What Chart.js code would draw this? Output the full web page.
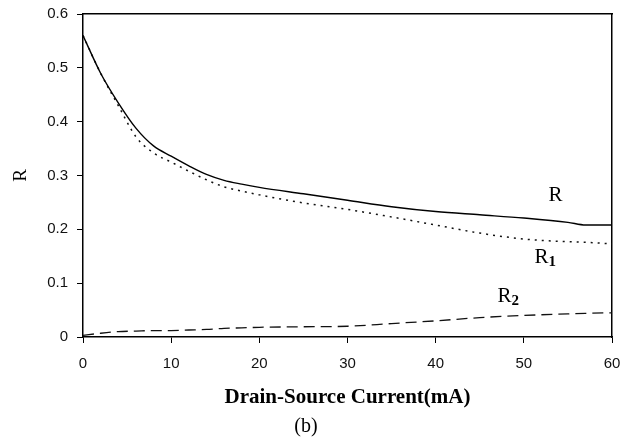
<!DOCTYPE html>
<html>
<head>
<meta charset="utf-8">
<script src="https://cdn.jsdelivr.net/npm/chart.js@4.4.1/dist/chart.umd.min.js"></script>
<style>
  html, body { margin: 0; padding: 0; background: #fff; }
  #wrap { width: 629px; height: 444px; }
</style>
</head>
<body>
<div id="wrap"><canvas id="myChart" width="629" height="444"></canvas></div>
<script>
// Drain-source current (mA)
const Strom = [0, 2, 4, 6, 8, 10, 12, 14, 16, 18, 20, 25, 30, 35, 40, 45, 50, 55, 57, 60];

// R, R1, R2
const WerteR  = [0.560, 0.490, 0.435, 0.388, 0.355, 0.336, 0.318, 0.302, 0.291, 0.284, 0.278, 0.266, 0.254, 0.242, 0.233, 0.227, 0.221, 0.213, 0.208, 0.208];
const WerteR1 = [0.560, 0.490, 0.430, 0.372, 0.342, 0.325, 0.308, 0.292, 0.279, 0.271, 0.264, 0.249, 0.237, 0.223, 0.208, 0.193, 0.182, 0.177, 0.176, 0.173];
const WerteR2 = [0.003, 0.007, 0.010, 0.011, 0.012, 0.012, 0.013, 0.014, 0.016, 0.017, 0.018, 0.019, 0.020, 0.025, 0.030, 0.036, 0.040, 0.043, 0.044, 0.045];

const xTicks = [0, 10, 20, 30, 40, 50, 60];
const yTicks = [0, 0.1, 0.2, 0.3, 0.4, 0.5, 0.6];

// curve labels: [text, subscript, x, y]
const Beschriftung = [
  ["R", "", 52.8, 0.262],
  ["R", "1", 51.2, 0.148],
  ["R", "2", 47.0, 0.076]
];

function punkte(werte){
  return Strom.map((x, i) => ({x: x, y: werte[i]}));
}

const labelPlugin = {
  id: 'kurvenLabels',
  afterDatasetsDraw(chart){
    const c = chart.ctx;
    const sx = chart.scales.x, sy = chart.scales.y;
    c.save();
    c.fillStyle = '#000';
    c.textBaseline = 'middle';
    c.textAlign = 'left';
    Beschriftung.forEach(b => {
      const px = sx.getPixelForValue(b[2]);
      const py = sy.getPixelForValue(b[3]);
      c.font = '21px "Liberation Serif", "DejaVu Serif", serif';
      c.fillText(b[0], px, py);
      if (b[1]){
        const w = c.measureText(b[0]).width;
        c.font = 'bold 15px "Liberation Serif", "DejaVu Serif", serif';
        c.fillText(b[1], px + w, py + 5);
      }
    });
    c.restore();
  }
};

const tickFont = {family: '"Liberation Sans Narrow", "Liberation Sans", Arial, sans-serif', size: 15};
const serif = '"Liberation Serif", "DejaVu Serif", serif';

function keinRand(s){
  s.paddingTop = 0; s.paddingBottom = 0; s.paddingLeft = 0; s.paddingRight = 0;
}

const ctx = document.getElementById('myChart');

new Chart(ctx, {
  type: 'line',
  data: {
    datasets: [{
      label: 'R',
      data: punkte(WerteR),
      borderColor: '#000',
      borderWidth: 1.4,
      pointRadius: 0,
      cubicInterpolationMode: 'monotone'
    },{
      label: 'R1',
      data: punkte(WerteR1),
      borderColor: '#111',
      borderWidth: 1.5,
      borderDash: [2, 5],
      pointRadius: 0,
      cubicInterpolationMode: 'monotone'
    },{
      label: 'R2',
      data: punkte(WerteR2),
      borderColor: '#111',
      borderWidth: 1.3,
      borderDash: [11, 6],
      pointRadius: 0,
      cubicInterpolationMode: 'monotone'
    }]
  },
  plugins: [labelPlugin],
  options: {
    responsive: false,
    animation: false,
    layout: {padding: {top: 14, right: 17, bottom: 0, left: 0}},
    plugins: {
      legend: {display: false},
      tooltip: {enabled: false},
      subtitle: {
        display: true,
        position: 'bottom',
        text: '(b)',
        color: '#000',
        font: {family: serif, size: 20},
        padding: {top: 0, bottom: 5}
      }
    },
    scales: {
      x: {
        type: 'linear',
        min: 0, max: 60,
        afterBuildTicks: s => { s.ticks = xTicks.map(v => ({value: v})); },
        afterFit: s => { s.height = 78; keinRand(s); },
        grid: {drawOnChartArea: false, drawTicks: true, tickLength: 6, color: '#000'},
        border: {color: '#000', width: 1.5},
        ticks: {color: '#111', font: tickFont, padding: 12, maxRotation: 0},
        title: {
          display: true,
          text: 'Drain-Source Current(mA)',
          color: '#000',
          font: {family: serif, size: 21, weight: 'bold'},
          padding: {top: 0, bottom: 4.4}
        }
      },
      y: {
        min: 0, max: 0.6,
        afterBuildTicks: s => { s.ticks = yTicks.map(v => ({value: v})); },
        afterFit: s => { s.width = 83; keinRand(s); },
        grid: {drawOnChartArea: false, drawTicks: true, tickLength: 6, color: '#000'},
        border: {color: '#000', width: 1.5},
        ticks: {color: '#111', font: tickFont, padding: 9, callback: v => v === 0 ? '0' : v.toFixed(1)},
        title: {
          display: true,
          text: 'R',
          color: '#000',
          font: {family: serif, size: 19},
          padding: {top: 10, bottom: 0}
        }
      },
      xTop: {
        type: 'linear', position: 'top', min: 0, max: 60,
        afterFit: s => { s.height = 0; keinRand(s); },
        grid: {display: false},
        border: {color: '#000', width: 1.5},
        ticks: {display: false}
      },
      yRight: {
        type: 'linear', position: 'right', min: 0, max: 0.6,
        afterFit: s => { s.width = 0; keinRand(s); },
        grid: {display: false},
        border: {color: '#000', width: 1.5},
        ticks: {display: false}
      }
    }
  }
});
</script>
</body>
</html>
